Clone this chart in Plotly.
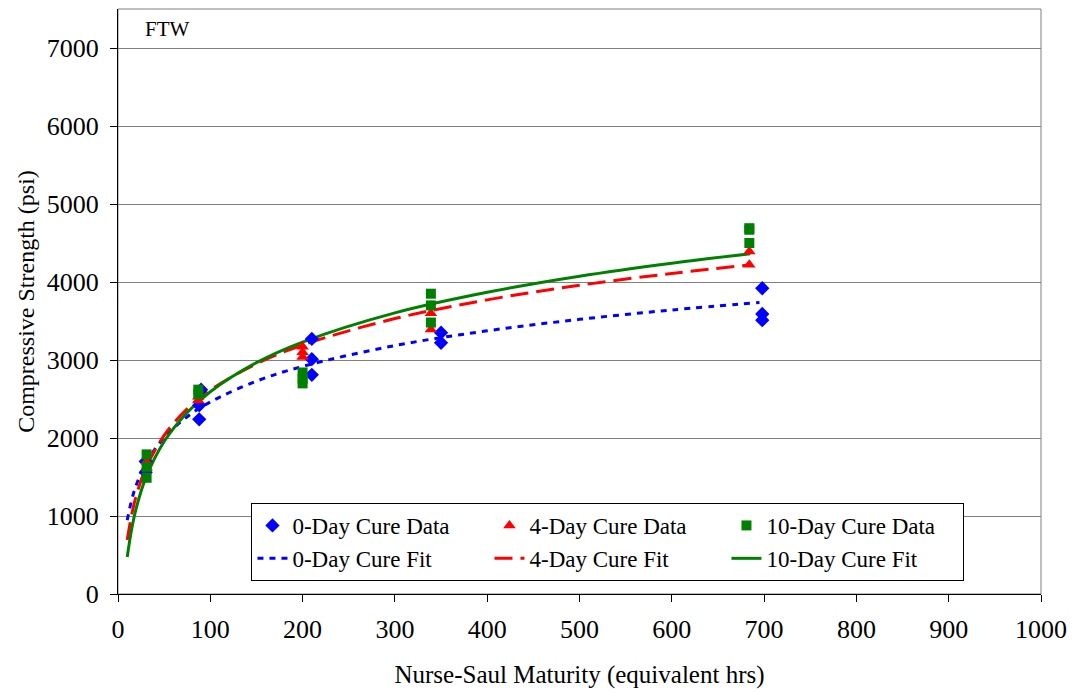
import plotly.graph_objects as go

# ---- data ----
d0_x = [30, 30, 88, 88, 90, 210, 210, 210, 350, 350, 698, 698, 698]
d0_y = [1700, 1560, 2240, 2420, 2620, 3270, 3010, 2810, 3350, 3220, 3920, 3590, 3510]

d4_x = [31, 31, 87, 87, 200, 200, 200, 339, 339, 684, 684]
d4_y = [1700, 1620, 2530, 2480, 3170, 3100, 3040, 3600, 3390, 4390, 4220]

d10_x = [31, 31, 31, 87, 87, 200, 200, 200, 339, 339, 339, 684, 684, 684]
d10_y = [1790, 1630, 1490, 2620, 2560, 2840, 2760, 2700, 3850, 3700, 3480, 4690, 4670, 4500]

fit_x0 = [10, 15, 20, 30, 50, 75, 100, 150, 200, 300, 400, 500, 600, 695]
fit_y0 = [947, 1214, 1403, 1670, 2006, 2273, 2462, 2729, 2918, 3185, 3374, 3521, 3641, 3738]

fit_x4 = [10, 15, 20, 30, 50, 75, 100, 150, 200, 300, 400, 500, 600, 685]
fit_y4 = [691, 1029, 1270, 1608, 2035, 2373, 2613, 2952, 3192, 3531, 3771, 3958, 4110, 4220]

fit_x10 = [10, 15, 20, 30, 50, 75, 100, 150, 200, 300, 400, 500, 600, 685]
fit_y10 = [474, 847, 1112, 1485, 1955, 2328, 2593, 2966, 3230, 3604, 3868, 4074, 4241, 4363]

x_ticks = list(range(0, 1001, 100))
y_ticks = list(range(0, 7001, 1000))

BLUE = "#0000FF"
RED = "#FF0000"
GREEN = "#008000"
FONT = "Liberation Serif"

fig = go.Figure()

fig.add_trace(go.Scatter(x=fit_x0, y=fit_y0, mode="lines", name="0-Day Cure Fit",
                         line=dict(color=BLUE, width=3, dash="6px,6px", shape="spline"),
                         legendrank=4))
fig.add_trace(go.Scatter(x=fit_x4, y=fit_y4, mode="lines", name="4-Day Cure Fit",
                         line=dict(color=RED, width=3, dash="18px,8px", shape="spline"),
                         legendrank=5))
fig.add_trace(go.Scatter(x=fit_x10, y=fit_y10, mode="lines", name="10-Day Cure Fit",
                         line=dict(color=GREEN, width=3, shape="spline"),
                         legendrank=6))

fig.add_trace(go.Scatter(x=d0_x, y=d0_y, mode="markers", name="0-Day Cure Data",
                         marker=dict(symbol="diamond", color=BLUE, size=11),
                         legendrank=1))
fig.add_trace(go.Scatter(x=d4_x, y=d4_y, mode="markers", name="4-Day Cure Data",
                         marker=dict(symbol="triangle-up", color=RED, size=11),
                         legendrank=2))
fig.add_trace(go.Scatter(x=d10_x, y=d10_y, mode="markers", name="10-Day Cure Data",
                         marker=dict(symbol="square", color=GREEN, size=10),
                         legendrank=3))

fig.update_layout(
    width=1076, height=694,
    margin=dict(l=118, r=31, t=9, b=100),
    paper_bgcolor="white", plot_bgcolor="white",
    font=dict(family=FONT, size=25, color="black"),
    showlegend=True,
    legend=dict(
        orientation="h",
        x=0.1446, y=0.1556, xanchor="left", yanchor="top",
        bgcolor="white", bordercolor="black", borderwidth=1,
        font=dict(family=FONT, size=23, color="black"),
        entrywidth=192, entrywidthmode="pixels",
        traceorder="normal",
    ),
    xaxis=dict(
        range=[0, 1000], tickvals=x_ticks, ticktext=[str(v) for v in x_ticks],
        showgrid=False, zeroline=False,
        showline=True, linecolor="black", linewidth=1,
        ticks="outside", ticklen=7, tickcolor="black",
        ticklabelstandoff=5,
        tickfont=dict(family=FONT, size=26),
        title=dict(text="Nurse-Saul Maturity (equivalent hrs)", standoff=22,
                   font=dict(family=FONT, size=25)),
    ),
    yaxis=dict(
        range=[0, 7500], tickvals=y_ticks, ticktext=[str(v) for v in y_ticks],
        showgrid=True, gridcolor="#808080", gridwidth=1,
        zeroline=False,
        showline=True, linecolor="black", linewidth=1,
        ticks="outside", ticklen=7, tickcolor="black",
        ticklabelstandoff=6,
        tickfont=dict(family=FONT, size=26),
        title=dict(text="Compressive Strength (psi)", standoff=5,
                   font=dict(family=FONT, size=24)),
    ),
    shapes=[dict(type="rect", xref="paper", yref="paper", x0=0, y0=0, x1=1, y1=1,
                 line=dict(color="#808080", width=1), layer="below")],
    annotations=[dict(text="FTW", x=0.027, y=0.965, xref="paper", yref="paper",
                      xanchor="left", yanchor="middle", showarrow=False,
                      font=dict(family=FONT, size=21, color="black"))],
)

fig.write_html("out.html")
